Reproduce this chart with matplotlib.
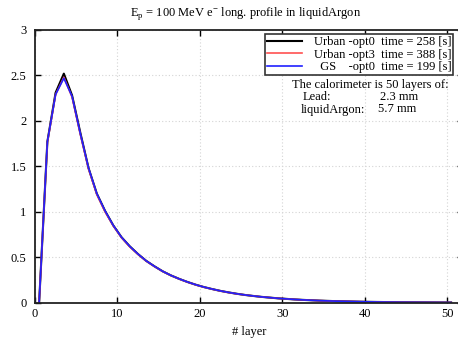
import matplotlib
matplotlib.use("Agg")
import matplotlib.pyplot as plt
import numpy as np

# Data (layer positions and energy profile values)
layers = [0.5 + i for i in range(51)]
urban_opt0 = [0.0, 1.77, 2.31, 2.52, 2.28, 1.87, 1.48, 1.20, 1.01, 0.85,
              0.72, 0.62, 0.535, 0.46, 0.40, 0.345, 0.30, 0.262, 0.228, 0.198,
              0.172, 0.150, 0.130, 0.113, 0.098, 0.085, 0.074, 0.064, 0.056, 0.048,
              0.042, 0.036, 0.031, 0.027, 0.023, 0.020, 0.017, 0.015, 0.013, 0.011,
              0.0095, 0.008, 0.007, 0.006, 0.005, 0.0045, 0.004, 0.0035, 0.003, 0.0025, 0.002]
urban_opt3 = [0.0, 1.76, 2.29, 2.48, 2.26, 1.85, 1.47, 1.19, 1.00, 0.845,
              0.715, 0.615, 0.532, 0.458, 0.398, 0.344, 0.299, 0.261, 0.227, 0.197,
              0.171, 0.149, 0.129, 0.112, 0.097, 0.085, 0.074, 0.064, 0.056, 0.048,
              0.042, 0.036, 0.031, 0.027, 0.023, 0.020, 0.017, 0.015, 0.013, 0.011,
              0.0095, 0.008, 0.007, 0.006, 0.005, 0.0045, 0.004, 0.0035, 0.003, 0.0025, 0.002]
gs_opt0 = [0.0, 1.77, 2.29, 2.47, 2.27, 1.86, 1.48, 1.20, 1.01, 0.85,
           0.72, 0.62, 0.535, 0.46, 0.40, 0.345, 0.30, 0.262, 0.228, 0.198,
           0.172, 0.150, 0.130, 0.113, 0.098, 0.085, 0.074, 0.064, 0.056, 0.048,
           0.042, 0.036, 0.031, 0.027, 0.023, 0.020, 0.017, 0.015, 0.013, 0.011,
           0.0095, 0.008, 0.007, 0.006, 0.005, 0.0045, 0.004, 0.0035, 0.003, 0.0025, 0.002]
labels = ["Urban -opt0  time = 258 [s]",
          "Urban -opt3  time = 388 [s]",
          "  GS    -opt0  time = 199 [s]"]
xticks = [0, 10, 20, 30, 40, 50]
yticks = [0, 0.5, 1, 1.5, 2, 2.5, 3]
ytick_labels = ["0", "0.5", "1", "1.5", "2", "2.5", "3"]

plt.rcParams['font.family'] = ['Liberation Serif', 'DejaVu Serif']
plt.rcParams['font.size'] = 9
plt.rcParams['mathtext.fontset'] = 'custom'
plt.rcParams['mathtext.rm'] = 'Liberation Serif'

W, H = 458, 342
fig = plt.figure(figsize=(W / 100, H / 100), dpi=100)
x0px, x50px = 35.0, 447.0
ppu = (x50px - x0px) / 50.0
xmax = 52.0
y3px, y0px = 30.0, 302.7
ax = fig.add_axes([x0px / W, (H - y0px) / H, xmax * ppu / W, (y0px - y3px) / H])

ax.plot(layers, urban_opt0, color='black', lw=1.5, label=labels[0])
ax.plot(layers, urban_opt3, color='#ff5050', lw=1.2, label=labels[1])
ax.plot(layers, gs_opt0, color='#2020ff', lw=1.2, label=labels[2])

ax.set_xlim(0, xmax)
ax.set_ylim(0, 3)
ax.set_xticks(xticks)
ax.set_xticklabels([str(t) for t in xticks])
ax.set_yticks(yticks)
ax.set_yticklabels(ytick_labels)
ax.tick_params(axis='both', direction='in', length=4, width=1.0, colors='black', top=True, right=True)
ax.tick_params(axis='y', pad=6)
ax.tick_params(axis='x', pad=4)
ax.grid(True, color='#d4d4d4', linestyle=(0, (1, 2)), linewidth=0.8)
for s in ax.spines.values():
    s.set_linewidth(1.3)
    s.set_color('#222222')

ax.set_xlabel('# layer', labelpad=4)
fig.text(246 / W, 1 - 14 / H, r'E$_\mathregular{p}$ = 100 MeV e$^\mathregular{-}$ long. profile in liquidArgon',
         ha='center', va='center', fontsize=9)

leg = ax.legend(loc='upper right', bbox_to_anchor=((453 - x0px) / (xmax * ppu), (y0px - 34.3) / (y0px - y3px)),
                frameon=True, fancybox=False, edgecolor='#333333', framealpha=1,
                borderpad=0.15, labelspacing=0.05, handlelength=2.8, handletextpad=0.9,
                borderaxespad=0, fontsize=9)
leg.get_frame().set_linewidth(1.2)

ax.text((291.7 - x0px) / (xmax * ppu), (y0px - 85) / (y0px - y3px), 'The calorimeter is 50 layers of:',
        transform=ax.transAxes, ha='left', va='center', fontsize=9)
ax.text((303 - x0px) / (xmax * ppu), (y0px - 97.5) / (y0px - y3px), 'Lead:',
        transform=ax.transAxes, ha='left', va='center', fontsize=9)
ax.text((380 - x0px) / (xmax * ppu), (y0px - 97.5) / (y0px - y3px), '2.3 mm',
        transform=ax.transAxes, ha='left', va='center', fontsize=9)
ax.text((301 - x0px) / (xmax * ppu), (y0px - 109.5) / (y0px - y3px), 'liquidArgon:',
        transform=ax.transAxes, ha='left', va='center', fontsize=9)
ax.text((378 - x0px) / (xmax * ppu), (y0px - 109.5) / (y0px - y3px), '5.7 mm',
        transform=ax.transAxes, ha='left', va='center', fontsize=9)

fig.savefig('out.png', dpi=100)
